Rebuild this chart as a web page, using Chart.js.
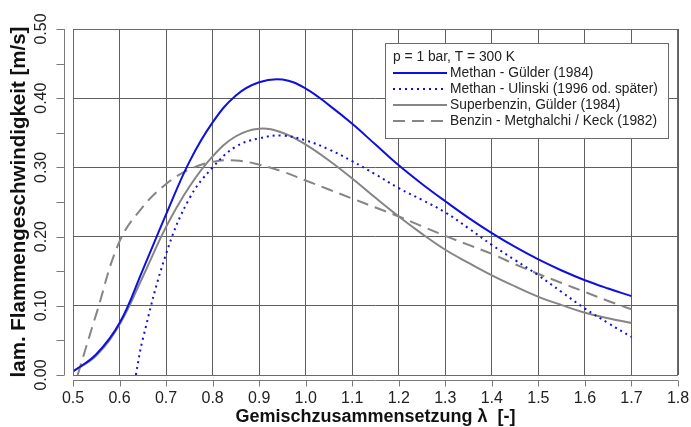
<!DOCTYPE html>
<html>
<head>
<meta charset="utf-8">
<script src="https://cdn.jsdelivr.net/npm/chart.js@4/dist/chart.umd.min.js"></script>
<style>
html,body{margin:0;padding:0;background:#fff;}
#wrap{width:691px;height:427px;}
</style>
</head>
<body>
<div id="wrap"><canvas id="c" width="691" height="427"></canvas></div>
<script>
// ---- data ----
const legendTitle = 'p = 1 bar, T = 300 K';
const xTitle = 'Gemischzusammensetzung \u03bb  [-]';
const yTitle = 'lam. Flammengeschwindigkeit [m/s]';

const lambdaGuelder = [0.50,0.55,0.60,0.65,0.70,0.75,0.80,0.85,0.90,0.95,1.00,1.05,1.10,1.15,1.20,1.25,1.30,1.35,1.40,1.45,1.50,1.55,1.60,1.65,1.70];
const methanGuelder = [0.005,0.030,0.075,0.152,0.232,0.308,0.365,0.404,0.423,0.427,0.414,0.390,0.363,0.333,0.303,0.276,0.251,0.227,0.205,0.185,0.167,0.151,0.137,0.125,0.114];
const superbenzinGuelder = [0.005,0.028,0.073,0.142,0.214,0.272,0.316,0.345,0.356,0.350,0.333,0.310,0.284,0.256,0.229,0.204,0.181,0.162,0.144,0.128,0.113,0.101,0.090,0.082,0.075];

const lambdaUlinski = [0.635,0.65,0.70,0.75,0.80,0.85,0.90,0.95,1.00,1.05,1.10,1.15,1.20,1.25,1.30,1.35,1.40,1.45,1.50,1.55,1.60,1.65,1.70];
const methanUlinski = [0.000,0.052,0.175,0.255,0.300,0.330,0.342,0.346,0.339,0.326,0.309,0.290,0.270,0.253,0.235,0.212,0.188,0.166,0.144,0.120,0.096,0.075,0.055];

const lambdaMetghalchi = [0.51,0.55,0.60,0.65,0.70,0.75,0.80,0.85,0.90,0.95,1.00,1.05,1.10,1.15,1.20,1.25,1.30,1.35,1.40,1.45,1.50,1.55,1.60,1.65,1.70];
const benzinMetghalchi = [0.000,0.088,0.193,0.243,0.276,0.297,0.308,0.310,0.304,0.294,0.281,0.268,0.255,0.242,0.229,0.215,0.201,0.188,0.175,0.160,0.146,0.133,0.120,0.107,0.095];

const seriesLabels = ['Methan - G\u00fclder (1984)','Methan - Ulinski (1996 od. sp\u00e4ter)','Superbenzin, G\u00fclder (1984)','Benzin - Metghalchi / Keck (1982)'];

const xTickLabelsFixed = 1;  // decimals
const yTickLabelsFixed = 2;

function pts(xs, ys){ return xs.map((v,i)=>({x:v, y:ys[i]})); }

const BLUE = '#1010dc';
const GRAY = '#858585';
const GRID = '#5f5f5f';
const FONT = "'Liberation Sans', Arial, sans-serif";

const rAxes = {
  id:'rAxes',
  afterDraw(chart){
    const {ctx, chartArea:a, scales:{x, y}} = chart;
    ctx.save();
    // plot box
    ctx.strokeStyle = '#6a6a6a'; ctx.lineWidth = 1;
    ctx.strokeRect(Math.round(a.left)+0.5, Math.round(a.top)+0.5, Math.round(a.right-a.left)-1, Math.round(a.bottom-a.top));
    // x axis (detached)
    const axY = Math.round(a.bottom) + 5.5;
    ctx.strokeStyle = '#7a7a7a';
    ctx.beginPath();
    ctx.moveTo(x.getPixelForValue(x.min), axY); ctx.lineTo(x.getPixelForValue(x.max), axY);
    x.ticks.forEach(t=>{ const px = Math.round(x.getPixelForValue(t.value))+0.5; ctx.moveTo(px, axY); ctx.lineTo(px, axY+6); });
    ctx.stroke();
    ctx.fillStyle = '#222'; ctx.font = '16px ' + FONT; ctx.textAlign = 'center'; ctx.textBaseline = 'middle';
    x.ticks.forEach(t=>{ ctx.fillText(t.value.toFixed(xTickLabelsFixed), x.getPixelForValue(t.value), axY + 18); });
    // y axis (detached)
    const axX = Math.round(a.left) - 8.5;
    ctx.beginPath();
    ctx.moveTo(axX, y.getPixelForValue(y.min)); ctx.lineTo(axX, y.getPixelForValue(y.max));
    y.ticks.forEach(t=>{ const py = Math.round(y.getPixelForValue(t.value))+0.5; ctx.moveTo(axX, py); ctx.lineTo(axX-8, py); });
    ctx.stroke();
    y.ticks.forEach(t=>{
      const v = t.value;
      if (Math.abs(v*10 - Math.round(v*10)) > 1e-6) return;
      ctx.save();
      ctx.translate(axX - 23, y.getPixelForValue(v));
      ctx.rotate(-Math.PI/2);
      ctx.fillText(v.toFixed(yTickLabelsFixed), 0, 0);
      ctx.restore();
    });
    // axis titles
    ctx.fillStyle = '#111';
    ctx.font = 'bold 18px ' + FONT;
    ctx.fillText(xTitle, (a.left + a.right)/2, 417);
    ctx.save();
    ctx.font = 'bold 20.5px ' + FONT;
    ctx.translate(19, (a.top + a.bottom)/2);
    ctx.rotate(-Math.PI/2);
    ctx.fillText(yTitle, 0, 0);
    ctx.restore();

    // legend box
    const lx = 385, ly = 43, lw = 283, lh = 95;
    ctx.fillStyle = '#fff'; ctx.fillRect(lx, ly, lw, lh);
    ctx.strokeStyle = '#6a6a6a'; ctx.lineWidth = 1;
    ctx.strokeRect(lx+0.5, ly+0.5, lw, lh);
    ctx.fillStyle = '#222'; ctx.font = '13.8px ' + FONT; ctx.textAlign = 'left'; ctx.textBaseline = 'middle';
    ctx.fillText(legendTitle, lx + 8, ly + 14);
    chart.data.datasets.forEach((ds, i)=>{
      const ry = ly + 30 + i*16;
      ctx.save();
      ctx.strokeStyle = ds.borderColor; ctx.lineWidth = ds.borderWidth;
      ctx.setLineDash(ds.borderDash || []);
      ctx.beginPath(); ctx.moveTo(lx + 8, ry); ctx.lineTo(lx + 62, ry); ctx.stroke();
      ctx.restore();
      ctx.fillText(ds.label, lx + 65, ry);
    });
    ctx.restore();
  }
};

const common = {borderWidth: 2, pointRadius: 0, tension: 0.4, fill: false};

new Chart(document.getElementById('c'), {
  type: 'line',
  data: {
    datasets: [
      Object.assign({label: seriesLabels[0], data: pts(lambdaGuelder, methanGuelder), borderColor: BLUE}, common),
      Object.assign({label: seriesLabels[1], data: pts(lambdaUlinski, methanUlinski), borderColor: BLUE, borderDash: [2,4]}, common),
      Object.assign({label: seriesLabels[2], data: pts(lambdaGuelder, superbenzinGuelder), borderColor: GRAY}, common),
      Object.assign({label: seriesLabels[3], data: pts(lambdaMetghalchi, benzinMetghalchi), borderColor: GRAY, borderDash: [12,7]}, common)
    ]
  },
  options: {
    responsive: false,
    animation: false,
    devicePixelRatio: 1,
    layout: {padding: {top: 29, right: 13, left: 0, bottom: 0}},
    plugins: {legend: {display: false}, tooltip: {enabled: false}},
    scales: {
      x: {
        type: 'linear', min: 0.5, max: 1.8,
        ticks: {stepSize: 0.1, display: false},
        grid: {color: GRID, lineWidth: 1, drawTicks: false},
        border: {display: false},
        afterFit(s){ s.height = 52; }
      },
      y: {
        type: 'linear', min: 0, max: 0.5,
        ticks: {stepSize: 0.05, display: false},
        grid: {
          color: c => (Math.abs(c.tick.value*10 - Math.round(c.tick.value*10)) < 1e-6) ? GRID : 'rgba(0,0,0,0)',
          lineWidth: 1, drawTicks: false
        },
        border: {display: false},
        afterFit(s){ s.width = 73; }
      }
    }
  },
  plugins: [rAxes]
});
</script>
</body>
</html>
